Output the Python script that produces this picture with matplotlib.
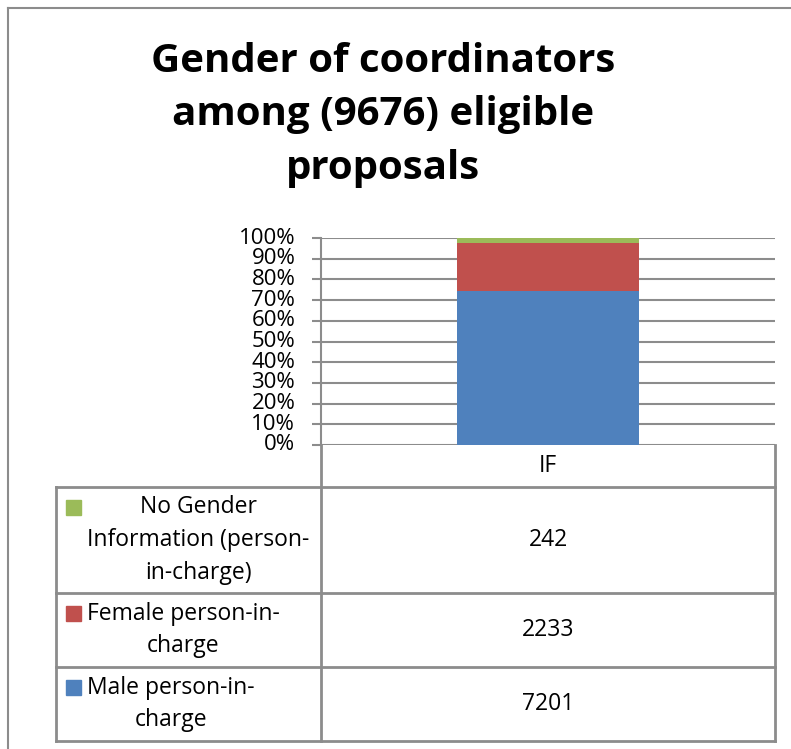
import matplotlib
matplotlib.use("Agg")
import matplotlib.pyplot as plt
from matplotlib.lines import Line2D
from matplotlib.patches import Rectangle

plt.rcParams['font.family'] = ['Open Sans', 'DejaVu Sans']

# ---- data ----
category = ["IF"]
series_names = ["Male person-in-\ncharge",
                "Female person-in-\ncharge",
                "No Gender\nInformation (person-\nin-charge)"]
series_values = [7201, 2233, 242]
series_colors = ["#4F81BD", "#C0504D", "#9BBB59"]
title = "Gender of coordinators\namong (9676) eligible\nproposals"
y_ticks = [0, 10, 20, 30, 40, 50, 60, 70, 80, 90, 100]

W, H = 791, 749
fig = plt.figure(figsize=(W / 100, H / 100), dpi=100)
GRAY = "#8C8C8C"
FS = 16.5
TFS = 16

def fx(px):
    return px / W

def fy(py):
    return 1 - py / H

# plot area
ax = fig.add_axes([fx(321), fy(445), fx(775) - fx(321), fy(238) - fy(445)])
total = sum(series_values)
bottom = 0.0
for v, c in zip(series_values, series_colors):
    frac = v / total * 100
    ax.bar(0, frac, width=0.4, bottom=bottom, color=c, zorder=3)
    bottom += frac
ax.set_xlim(-0.5, 0.5)
ax.set_ylim(0, 100)
ax.set_yticks(y_ticks)
ax.set_yticklabels([f"{t}%" for t in y_ticks], fontsize=TFS)
ax.set_xticks([])
ax.grid(axis='y', color=GRAY, linewidth=1.5, zorder=0)
for s in ['top', 'right', 'bottom']:
    ax.spines[s].set_visible(False)
ax.spines['left'].set_color(GRAY)
ax.spines['left'].set_linewidth(1.5)
ax.tick_params(axis='y', length=6.5, width=1.5, color=GRAY, pad=12,
               labelcolor='black')
for lbl in ax.get_yticklabels():
    lbl.set_verticalalignment('center')

# overlay in pixel coordinates for the data table and frame
ov = fig.add_axes([0, 0, 1, 1], zorder=-1)
ov.set_xlim(0, W)
ov.set_ylim(H, 0)
ov.axis('off')

def line(x0, y0, x1, y1, lw=2):
    ov.add_line(Line2D([x0, x1], [y0, y1], color=GRAY, linewidth=lw,
                       solid_capstyle='projecting'))

# outer frame
line(8, 8, W + 5, 8, lw=1.5)
line(8, 8, 8, H + 5, lw=1.5)

# table
row_edges = [487, 593, 667, 741]
line(321, 445, 321, 741)
line(775, 445, 775, 741)
line(56, 487, 56, 741)
for y in row_edges:
    line(56, y, 775, y)
ov.text(548, 466, category[0], ha='center', va='center', fontsize=FS)

LINE_PX = 33
rows_order = list(range(len(series_values)))[::-1]  # green, red, blue
for i, si in enumerate(rows_order):
    y0, y1 = row_edges[i], row_edges[i + 1]
    yc = (y0 + y1) / 2
    name = series_names[si]
    nlines = name.count("\n") + 1
    ov.text(87, yc, name, ha='left', va='center', multialignment='center',
            fontsize=FS, linespacing=1.5)
    # legend marker aligned with first line
    top_line_center = yc - (nlines - 1) * 0.5 * LINE_PX
    ov.add_patch(Rectangle((66, top_line_center - 7.5), 15, 15,
                           color=series_colors[si]))
    ov.text(548, yc, f"{series_values[si]}", ha='center', va='center',
            fontsize=FS)

# title
fig.text(fx(383), fy(115), title, ha='center', va='center', fontsize=29,
         fontweight='bold', linespacing=1.5)

fig.savefig("out.png", dpi=100)
